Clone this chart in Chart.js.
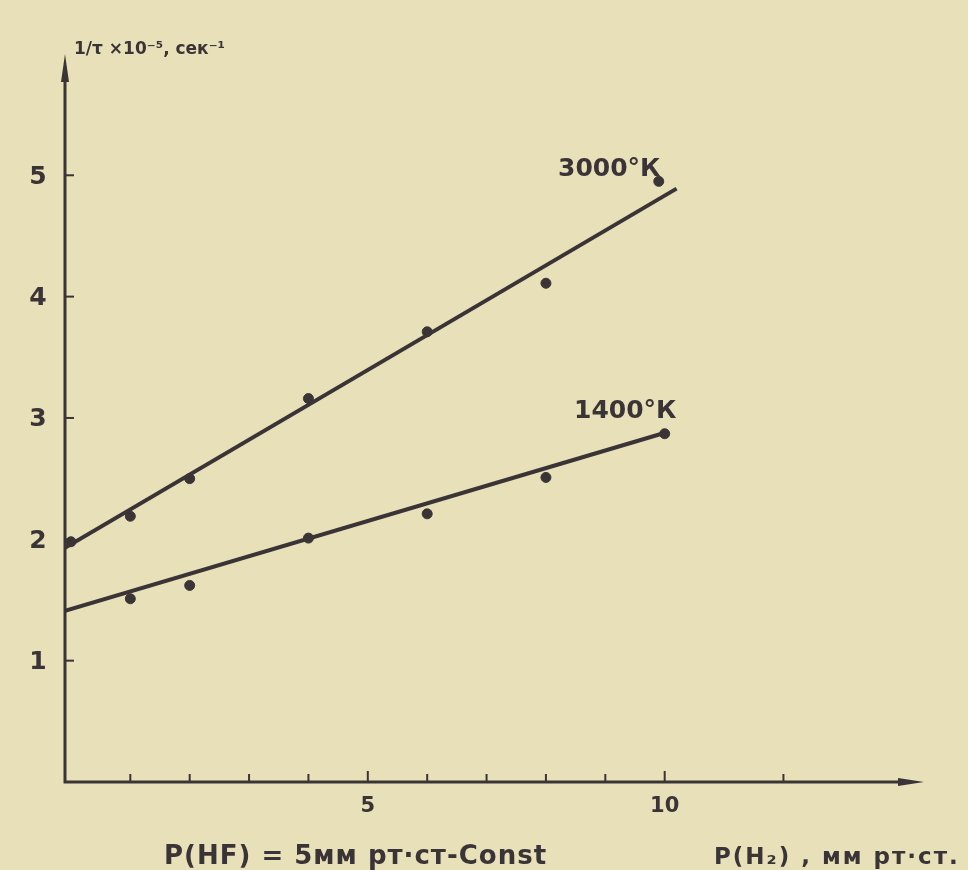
<!DOCTYPE html>
<html>
<head>
<meta charset="utf-8">
<script src="https://cdn.jsdelivr.net/npm/chart.js@4.4.1/dist/chart.umd.min.js"></script>
<style>
  html, body { margin: 0; padding: 0; background: #e7e0b9; }
  #wrap { width: 968px; height: 870px; position: relative; }
</style>
</head>
<body>
<div id="wrap"><canvas id="chart" width="968" height="870"></canvas></div>
<script>
// measured points, 1/tau x 10^-5 vs P(H2)
const x3000 = [0, 1, 2, 4, 6, 8, 9.9];
const y3000 = [1.98, 2.19, 2.50, 3.16, 3.71, 4.11, 4.95];
const x1400 = [1, 2, 4, 6, 8, 10];
const y1400 = [1.51, 1.62, 2.01, 2.21, 2.51, 2.87];

// fitted straight lines (end points as drawn)
const fit3000x = [-0.1, 10.2];
const fit3000y = [1.93, 4.89];
const fit1400x = [-0.1, 9.95];
const fit1400y = [1.41, 2.87];

const yTicks = [1, 2, 3, 4, 5];
const xTickMarks = [1, 2, 3, 4, 5, 6, 7, 8, 9, 10, 12];
const xTickLabels = [5, 10];

const ink = '#3b3436';
const font = '"DejaVu Sans", "Liberation Sans", sans-serif';

function toPoints(xs, ys) {
    return xs.map((x, i) => ({ x: x, y: ys[i] }));
}

const axesPlugin = {
    id: 'axes',
    afterDraw(chart) {
        const ctx = chart.ctx;
        const xs = chart.scales.x;
        const ys = chart.scales.y;
        const left = xs.getPixelForValue(-0.1);
        const bottom = ys.getPixelForValue(0);
        const right = xs.getPixelForValue(14.3);
        const top = ys.getPixelForValue(5.95);

        ctx.save();
        ctx.strokeStyle = ink;
        ctx.fillStyle = ink;
        ctx.lineWidth = 3;
        ctx.lineCap = 'butt';

        // axes
        ctx.beginPath();
        ctx.moveTo(left, top + 12);
        ctx.lineTo(left, bottom);
        ctx.lineTo(right - 12, bottom);
        ctx.stroke();

        // arrow heads
        ctx.beginPath();
        ctx.moveTo(left, top - 6);
        ctx.lineTo(left - 4, top + 22);
        ctx.lineTo(left + 4, top + 22);
        ctx.closePath();
        ctx.fill();
        ctx.beginPath();
        ctx.moveTo(right + 4, bottom);
        ctx.lineTo(right - 22, bottom - 4);
        ctx.lineTo(right - 22, bottom + 4);
        ctx.closePath();
        ctx.fill();

        // tick marks (inside)
        ctx.lineWidth = 2;
        yTicks.forEach(v => {
            const py = ys.getPixelForValue(v);
            ctx.beginPath();
            ctx.moveTo(left, py);
            ctx.lineTo(left + 9, py);
            ctx.stroke();
        });
        xTickMarks.forEach(v => {
            const px = xs.getPixelForValue(v);
            ctx.beginPath();
            ctx.moveTo(px, bottom);
            ctx.lineTo(px, bottom - (v === 5 || v === 10 ? 11 : 8));
            ctx.stroke();
        });

        // tick labels
        ctx.font = 'bold 25px ' + font;
        ctx.textAlign = 'center';
        ctx.textBaseline = 'middle';
        yTicks.forEach(v => {
            ctx.fillText(String(v), 38, ys.getPixelForValue(v) + 2);
        });
        ctx.textBaseline = 'top';
        ctx.font = 'bold 21px ' + font;
        xTickLabels.forEach(v => {
            ctx.fillText(String(v), xs.getPixelForValue(v), bottom + 14);
        });

        // axis titles
        ctx.textAlign = 'left';
        ctx.textBaseline = 'alphabetic';
        ctx.font = 'bold 17px ' + font;
        ctx.fillText('1/τ ×10⁻⁵, сек⁻¹', 74, 54);
        ctx.font = 'bold 26px ' + font;
        ctx.letterSpacing = '1px';
        ctx.fillText('Р(HF) = 5мм рт·ст-Const', 164, 864);
        ctx.font = 'bold 23px ' + font;
        ctx.letterSpacing = '2px';
        ctx.fillText('Р(H₂) , мм рт·ст.', 714, 864);
        ctx.letterSpacing = '0px';

        // series labels
        ctx.font = 'bold 25px ' + font;
        ctx.fillText('3000°К', 558, 176);
        ctx.fillText('1400°К', 574, 418);
        ctx.restore();
    }
};

new Chart(document.getElementById('chart'), {
    type: 'scatter',
    data: {
        datasets: [
            {
                label: '3000°K fit',
                type: 'line',
                data: toPoints(fit3000x, fit3000y),
                borderColor: ink,
                borderWidth: 4,
                pointRadius: 0,
                fill: false
            },
            {
                label: '1400°K fit',
                type: 'line',
                data: toPoints(fit1400x, fit1400y),
                borderColor: ink,
                borderWidth: 4,
                pointRadius: 0,
                fill: false
            },
            {
                label: '3000°K',
                data: toPoints(x3000, y3000),
                backgroundColor: ink,
                borderColor: ink,
                pointRadius: 5
            },
            {
                label: '1400°K',
                data: toPoints(x1400, y1400),
                backgroundColor: ink,
                borderColor: ink,
                pointRadius: 5
            }
        ]
    },
    options: {
        responsive: false,
        animation: false,
        layout: { padding: { left: 65, right: 48, top: 60, bottom: 88 } },
        plugins: {
            legend: { display: false },
            tooltip: { enabled: false }
        },
        scales: {
            x: { type: 'linear', min: -0.1, max: 14.3, display: false },
            y: { type: 'linear', min: 0, max: 5.95, display: false }
        }
    },
    plugins: [axesPlugin]
});
</script>
</body>
</html>
